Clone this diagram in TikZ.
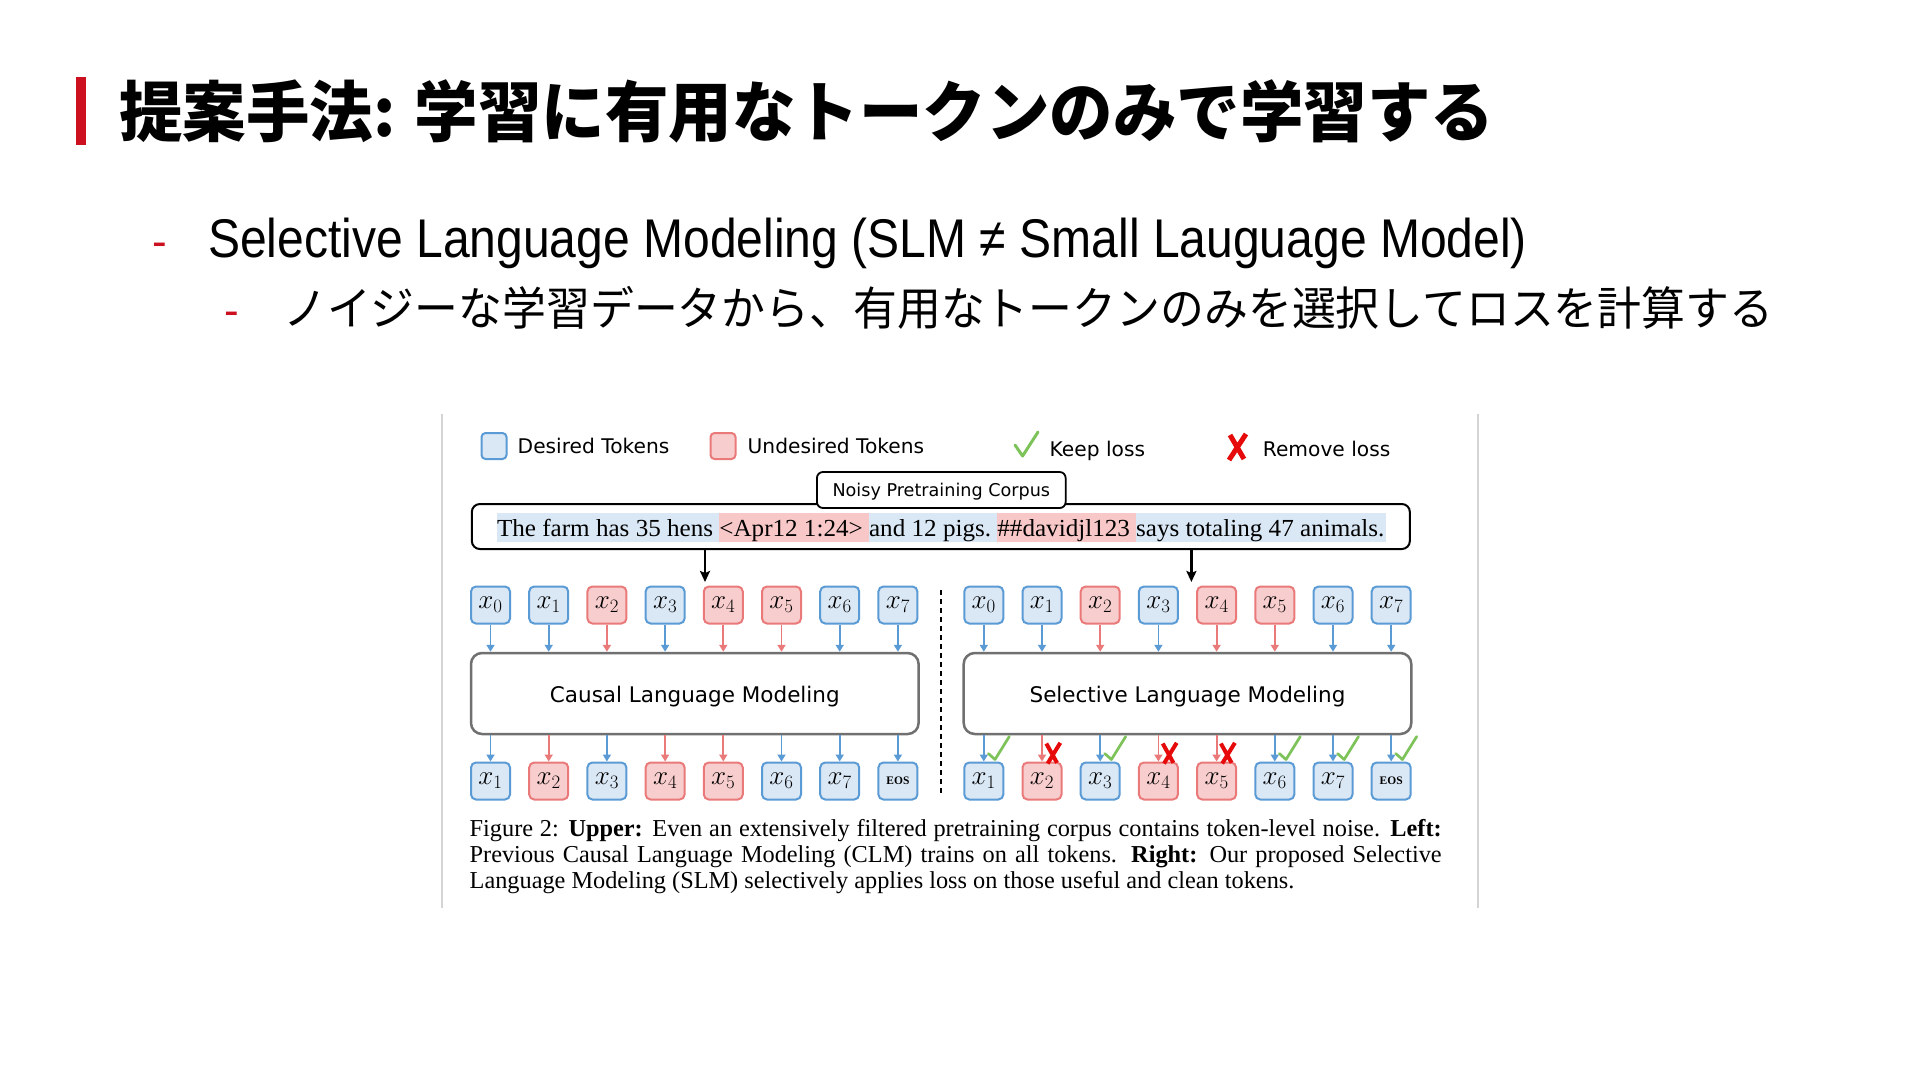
\documentclass[tikz,border=0pt]{standalone}
\usepackage{fix-cm}
\usepackage{fontspec}
\usepackage{graphicx}
\usetikzlibrary{arrows.meta}
\setmainfont{Liberation Serif}
\newfontfamily\dejavu{DejaVu Sans}
\newfontfamily\arialf{Liberation Sans}
\newfontfamily\jpf{Noto Sans CJK JP}
\definecolor{blueD}{RGB}{91,155,213}
\definecolor{blueF}{RGB}{218,232,246}
\definecolor{redD}{RGB}{234,122,122}
\definecolor{redF}{RGB}{248,205,205}
\definecolor{hlB}{RGB}{218,232,245}
\definecolor{hlR}{RGB}{248,200,200}
\definecolor{grayD}{RGB}{112,112,112}
\definecolor{chkG}{RGB}{125,195,90}
\definecolor{crsR}{RGB}{230,10,10}
\definecolor{titleRed}{RGB}{204,16,32}
\definecolor{frameG}{RGB}{212,212,212}
\newsavebox\fitbox
\makeatletter
\newcommand\fitto[2]{\sbox\fitbox{#2}\scalebox{\fpeval{#1/\strip@pt\wd\fitbox}}[1]{\usebox\fitbox}}
\makeatother
\newcommand\hlseg[2]{{\setlength\fboxsep{0pt}\colorbox{#1}{\rule[-6pt]{0pt}{29pt}#2}}}
\newcommand\eostxt{{\fontsize{11.5}{11.5}\selectfont\bfseries EOS}}
\tikzset{
  tokbase/.style={rectangle, rounded corners=5pt, line width=2pt, minimum width=39pt, minimum height=37pt, inner sep=0pt, font=\fontsize{27}{27}\selectfont},
  tokb/.style={tokbase, draw=blueD, fill=blueF},
  tokr/.style={tokbase, draw=redD, fill=redF},
  arrb/.style={draw=blueD, line width=1.8pt, -{Triangle[width=8pt,length=7pt]}},
  arrr/.style={draw=redD, line width=1.8pt, -{Triangle[width=8pt,length=7pt]}},
  bigarrow/.style={draw=black, line width=2.5pt, -{Stealth[width=10pt,length=11pt,inset=2pt]}},
  lmbox/.style={rectangle, rounded corners=11pt, draw=grayD, line width=2.5pt, fill=white, minimum width=447.6pt, minimum height=81pt, inner sep=0pt},
  lgtext/.style={anchor=base west, inner sep=0pt, font=\dejavu\fontsize{20.2}{20.2}\selectfont},
  captext/.style={anchor=base west, inner sep=0pt, font=\fontsize{24.3}{24.3}\selectfont},
  chk/.pic={\draw[chkG, line width=2.7pt, line cap=round, line join=round] (4.5,-8) -- (11.2,-2) -- (25.5,-25);},
  crs/.pic={\draw[crsR, line width=4pt] (4.3,-18) -- (15,1.3) (18.3,-18.7) -- (5.6,2);}
}
\begin{document}
\begin{tikzpicture}[x=1pt,y=-1pt]
\useasboundingbox (0,0) rectangle (1920,1080);
\fill[white] (0,0) rectangle (1920,1080);
% title
\fill[titleRed] (76,77) rectangle (86,145);
\node[anchor=base west, inner sep=0pt] (title) at (119,136) {\fitto{1375}{\jpf\bfseries\fontsize{66}{66}\selectfont 提案手法: 学習に有用なトークンのみで学習する}};
% bullets
\node[anchor=base, inner sep=0pt, text=titleRed, font=\arialf\fontsize{44}{44}\selectfont] (d1) at (159.5,256) {-};
\node[anchor=base west, inner sep=0pt] (s1) at (208,257) {\fitto{1319}{\arialf\fontsize{54.5}{54.5}\selectfont Selective Language Modeling (SLM ≠ Small Lauguage Model)}};
\node[anchor=base, inner sep=0pt, text=titleRed, font=\arialf\fontsize{44}{44}\selectfont] (d2) at (232,325) {-};
\node[anchor=base west, inner sep=0pt] (s2) at (283,325) {\fitto{1490}{\jpf\fontsize{46}{46}\selectfont ノイジーな学習データから、有用なトークンのみを選択してロスを計算する}};
% figure frame
\draw[frameG, line width=1.2pt] (442,414) -- (442,908);
\draw[frameG, line width=1.2pt] (1478,414) -- (1478,908);
% legend
\node[tokb, minimum width=25pt, minimum height=26pt, rounded corners=4pt] (lgb) at (494,446) {};
\node[lgtext] (lgbt) at (517.5,453.3) {Desired Tokens};
\node[tokr, minimum width=25pt, minimum height=26pt, rounded corners=4pt] (lgr) at (723,446) {};
\node[lgtext] (lgrt) at (747.5,453.3) {Undesired Tokens};
\draw[chkG, line width=3pt, line cap=round, line join=round] (1015,445) -- (1022.6,456) -- (1038,432);
\node[lgtext] (lgk) at (1049.5,456.5) {Keep loss};
\draw[crsR, line width=5pt] (1230,435) -- (1244,459) (1246,434) -- (1229,460);
\node[lgtext] (lgx) at (1262.7,456.5) {Remove loss};
% corpus box
\node[rectangle, rounded corners=8pt, draw=black, line width=2pt, minimum width=938pt, minimum height=45pt, inner sep=0pt] (main) at (940.85,526.5) {};
\node[rectangle, rounded corners=6pt, draw=black, line width=1.8pt, fill=white, minimum width=248.7pt, minimum height=36pt, inner sep=0pt] (noisy) at (941.3,490) {};
\node[anchor=base, inner sep=0pt, font=\dejavu\fontsize{17.6}{17.6}\selectfont] (noisyt) at (941.3,496.5) {Noisy Pretraining Corpus};
\node[anchor=base west, inner sep=0pt] (sent) at (496.8,536) {\fitto{889}{\fontsize{24.5}{24.5}\selectfont\hlseg{hlB}{The farm has 35 hens\ }\hlseg{hlR}{<Apr12 1:24>\ }\hlseg{hlB}{and 12 pigs.\ }\hlseg{hlR}{\#\#davidjl123\ }\hlseg{hlB}{says totaling 47 animals.\hspace{1.5pt}}}};
\coordinate (dl) at (705,582);
\coordinate (dr) at (1191.4,582);
\draw[bigarrow] (main.south -| dl) -- (dl);
\draw[bigarrow] (main.south -| dr) -- (dr);
% modeling boxes
\node[lmbox] (clm) at (694.8,693.5) {};
\node[anchor=base, inner sep=0pt, font=\dejavu\fontsize{21.5}{21.5}\selectfont] (clmt) at (694.8,702) {Causal Language Modeling};
\node[lmbox] (slm) at (1187.5,693.5) {};
\node[anchor=base, inner sep=0pt, font=\dejavu\fontsize{21.5}{21.5}\selectfont] (slmt) at (1187.5,702) {Selective Language Modeling};
% dashed separator
\coordinate (sepa) at (941,590);
\coordinate (sepb) at (941,795);
\draw[black, line width=1.5pt, dash pattern=on 5pt off 4pt] (sepa) -- (sepb);
% top tokens
\foreach \i/\tc in {0/b,1/b,2/r,3/b,4/r,5/r,6/b,7/b} {
  \node[tok\tc] (lt\i) at ({490.5+58.2*\i},605) {$x_{\i}$};
  \node[tok\tc] (rt\i) at ({983.8+58.2*\i},605) {$x_{\i}$};
  \draw[arr\tc] (lt\i.south) -- (lt\i.south |- clm.north);
  \draw[arr\tc] (rt\i.south) -- (rt\i.south |- slm.north);
}
% bottom tokens
\foreach \i/\tc/\lab in {1/b/$x_1$,2/r/$x_2$,3/b/$x_3$,4/r/$x_4$,5/r/$x_5$,6/b/$x_6$,7/b/$x_7$,8/b/\eostxt} {
  \node[tok\tc] (lb\i) at ({490.5+58.2*(\i-1)},781) {\lab};
  \node[tok\tc] (rb\i) at ({983.8+58.2*(\i-1)},781) {\lab};
  \draw[arr\tc] (clm.south -| lb\i.north) -- (lb\i.north);
  \draw[arr\tc] (slm.south -| rb\i.north) -- (rb\i.north);
}
\foreach \i in {1,3,6,7,8} { \pic at (rb\i.north) {chk}; }
\foreach \i in {2,4,5} { \pic at (rb\i.north) {crs}; }
% caption
\node[captext] (cap1) at (469.5,836.5) {\makebox[972pt][s]{Figure 2: \textbf{Upper:} Even an extensively filtered pretraining corpus contains token-level noise. \textbf{Left:}}};
\node[captext] (cap2) at (469.5,862.5) {\makebox[972pt][s]{Previous Causal Language Modeling (CLM) trains on all tokens. \textbf{Right:} Our proposed Selective}};
\node[captext] (cap3) at (469.5,888.5) {Language Modeling (SLM) selectively applies loss on those useful and clean tokens.};
\end{tikzpicture}
\end{document}
